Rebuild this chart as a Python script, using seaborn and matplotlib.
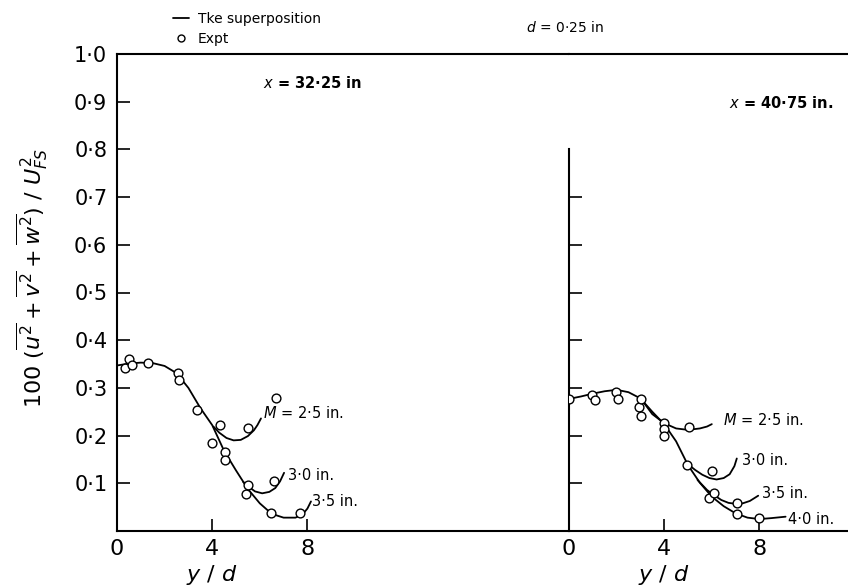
import matplotlib
matplotlib.use("Agg")
import matplotlib.pyplot as plt
import matplotlib.transforms as mtransforms
from matplotlib.lines import Line2D
import seaborn as sns

# ---- data: x = 32.25 in (left panel) ----
left_main_x = [0.0, 0.5, 1.0, 1.5, 2.0, 2.5, 3.0, 3.5, 4.0, 4.5, 5.0, 5.5, 6.0, 6.5, 7.0, 7.5, 7.8, 8.0, 8.15]
left_main_y = [0.347, 0.351, 0.353, 0.352, 0.346, 0.331, 0.300, 0.258, 0.222, 0.168, 0.127, 0.088, 0.058, 0.036, 0.028, 0.028, 0.035, 0.047, 0.062]
left_m25_x = [4.05, 4.3, 4.6, 4.9, 5.2, 5.5, 5.75, 5.9, 6.05]
left_m25_y = [0.219, 0.206, 0.195, 0.190, 0.191, 0.199, 0.211, 0.222, 0.236]
left_m30_x = [5.3, 5.55, 5.8, 6.1, 6.4, 6.65, 6.85, 7.02]
left_m30_y = [0.103, 0.092, 0.083, 0.079, 0.082, 0.090, 0.104, 0.122]
left_expt_x = [0.34, 0.5, 0.64, 1.29, 2.58, 2.6, 3.37, 3.98, 4.33, 4.55, 4.55, 5.41, 5.5, 5.52, 6.47, 6.6, 6.67, 7.69]
left_expt_y = [0.341, 0.360, 0.348, 0.353, 0.331, 0.317, 0.254, 0.184, 0.223, 0.166, 0.149, 0.077, 0.215, 0.096, 0.037, 0.105, 0.278, 0.037]

# ---- data: x = 40.75 in (right panel) ----
right_main_x = [0.0, 0.5, 1.0, 1.5, 2.0, 2.5, 3.0, 3.5, 4.0, 4.5, 5.0, 5.5, 6.0, 6.5, 7.0, 7.5, 8.0, 8.5, 9.1]
right_main_y = [0.277, 0.282, 0.288, 0.293, 0.296, 0.291, 0.278, 0.250, 0.224, 0.188, 0.138, 0.101, 0.072, 0.052, 0.037, 0.028, 0.025, 0.027, 0.030]
right_m25_x = [3.1, 3.5, 4.0, 4.5, 5.0, 5.5, 5.8, 6.0]
right_m25_y = [0.272, 0.245, 0.226, 0.215, 0.212, 0.215, 0.219, 0.224]
right_m30_x = [4.95, 5.3, 5.6, 5.9, 6.2, 6.5, 6.75, 6.95, 7.05]
right_m30_y = [0.142, 0.128, 0.118, 0.111, 0.108, 0.111, 0.119, 0.136, 0.152]
right_m35_x = [5.4, 5.8, 6.1, 6.4, 6.7, 7.0, 7.3, 7.6, 7.95]
right_m35_y = [0.107, 0.086, 0.075, 0.065, 0.059, 0.057, 0.058, 0.063, 0.074]
right_expt_x = [0.01, 0.98, 1.09, 1.97, 2.05, 2.95, 3.02, 3.02, 4.01, 4.01, 4.0, 4.95, 5.05, 5.89, 5.99, 6.08, 7.06, 7.06, 7.97]
right_expt_y = [0.277, 0.285, 0.275, 0.292, 0.277, 0.259, 0.276, 0.241, 0.227, 0.214, 0.199, 0.139, 0.217, 0.070, 0.126, 0.079, 0.059, 0.036, 0.028]

x_ticks = [0, 4, 8]
x_tick_labels = ["0", "4", "8"]
y_ticks = [0.1, 0.2, 0.3, 0.4, 0.5, 0.6, 0.7, 0.8, 0.9, 1.0]
y_tick_labels = ["0·1", "0·2", "0·3", "0·4", "0·5", "0·6", "0·7", "0·8", "0·9", "1·0"]
inner_y_ticks = [0.1, 0.2, 0.3, 0.4, 0.5, 0.6, 0.7]

sns.set_theme(style="ticks")
plt.rcParams["font.family"] = ["DejaVu Sans"]
plt.rcParams["mathtext.fontset"] = "dejavusans"
plt.rcParams["text.color"] = "black"
plt.rcParams["xtick.color"] = "black"
plt.rcParams["ytick.color"] = "black"
plt.rcParams["xtick.labelcolor"] = "black"
plt.rcParams["ytick.labelcolor"] = "black"

W, H = 848, 588
fig = plt.figure(figsize=(W / 100, H / 100), dpi=100)
fig.patch.set_facecolor("white")

# layout in pixels
xl0, xr0, xend = 117, 569, 848
yb, yt = 531, 54
px_per_unit = 23.8

axL = fig.add_axes([xl0 / W, 1 - yb / H, (xr0 - xl0) / W, (yb - yt) / H])
axR = fig.add_axes([xr0 / W, 1 - yb / H, (xend - xr0) / W, (yb - yt) / H])
axL.set_xlim(0, (xr0 - xl0) / px_per_unit)
axR.set_xlim(0, (xend - xr0) / px_per_unit)
for ax in (axL, axR):
    ax.set_ylim(0, 1.0)
    ax.set_facecolor("white")
    ax.grid(False)
    for s in ax.spines.values():
        s.set_linewidth(1.5)
        s.set_color("black")
    ax.spines["right"].set_visible(False)
    ax.tick_params(direction="in", length=9, width=1.2, colors="black",
                   labelsize=16, pad=6)
    ax.set_xticks(x_ticks)
    ax.set_xticklabels(x_tick_labels)

axL.set_yticks(y_ticks)
axL.set_yticklabels(y_tick_labels)
axL.tick_params(axis="y", labelsize=15, pad=7)
axR.set_yticks(inner_y_ticks)
axR.set_yticklabels([])
axR.spines["left"].set_bounds(0, 0.8)

line_kw = dict(color="black", linewidth=1.3, sort=False, estimator=None, legend=False)
pt_kw = dict(s=40, facecolor="white", edgecolor="black", linewidth=1.0, zorder=5, legend=False)

for xs, ys in [(left_main_x, left_main_y), (left_m25_x, left_m25_y), (left_m30_x, left_m30_y)]:
    sns.lineplot(x=xs, y=ys, ax=axL, **line_kw)
sns.scatterplot(x=left_expt_x, y=left_expt_y, ax=axL, **pt_kw)

for xs, ys in [(right_main_x, right_main_y), (right_m25_x, right_m25_y),
               (right_m30_x, right_m30_y), (right_m35_x, right_m35_y)]:
    sns.lineplot(x=xs, y=ys, ax=axR, **line_kw)
sns.scatterplot(x=right_expt_x, y=right_expt_y, ax=axR, **pt_kw)

for ax in (axL, axR):
    ax.set_xlabel("")
    ax.set_ylabel("")

lab_kw = dict(fontsize=10.5, ha="left", va="center", color="black")
axL.text(6.15, 0.247, "$M$ = 2·5 in.", **lab_kw)
axL.text(7.2, 0.116, "3·0 in.", **lab_kw)
axL.text(8.18, 0.061, "3·5 in.", **lab_kw)
axR.text(6.47, 0.233, "$M$ = 2·5 in.", **lab_kw)
axR.text(7.27, 0.147, "3·0 in.", **lab_kw)
axR.text(8.11, 0.078, "3·5 in.", **lab_kw)
axR.text(9.19, 0.025, "4·0 in.", **lab_kw)

axL.text(8.2, 0.939, "$x$ = 32·25 in", fontsize=10.5, ha="center", va="center", fontweight="bold")
axR.text(8.9, 0.897, "$x$ = 40·75 in.", fontsize=10.5, ha="center", va="center", fontweight="bold")

# axis titles under each panel, centred on y/d = 4
for ax in (axL, axR):
    tr = mtransforms.blended_transform_factory(ax.transData, ax.transAxes)
    ax.text(4, -0.092, "$y\\ /\\ d$", transform=tr, fontsize=16, ha="center", va="center")

fig.text(32 / W, 1 - 278 / H,
         r"$100\ (\overline{u^2}+\overline{v^2}+\overline{w^2})\ /\ U_{FS}^{2}$",
         rotation=90, ha="center", va="center", fontsize=16)

fig.text(565 / W, 1 - 28 / H, "$d$ = 0·25 in", fontsize=10, ha="center", va="center")

handles = [Line2D([], [], color="black", linewidth=1.3),
           Line2D([], [], marker="o", linestyle="none", markerfacecolor="white",
                  markeredgecolor="black", markersize=5)]
fig.legend(handles, ["Tke superposition", "Expt"], loc="upper left",
           bbox_to_anchor=(163 / W, 1 - 2 / H), frameon=False, fontsize=10,
           handlelength=1.2, handletextpad=0.6, labelspacing=0.45, borderpad=0.2)

fig.savefig("out.png", dpi=100, facecolor="white")
